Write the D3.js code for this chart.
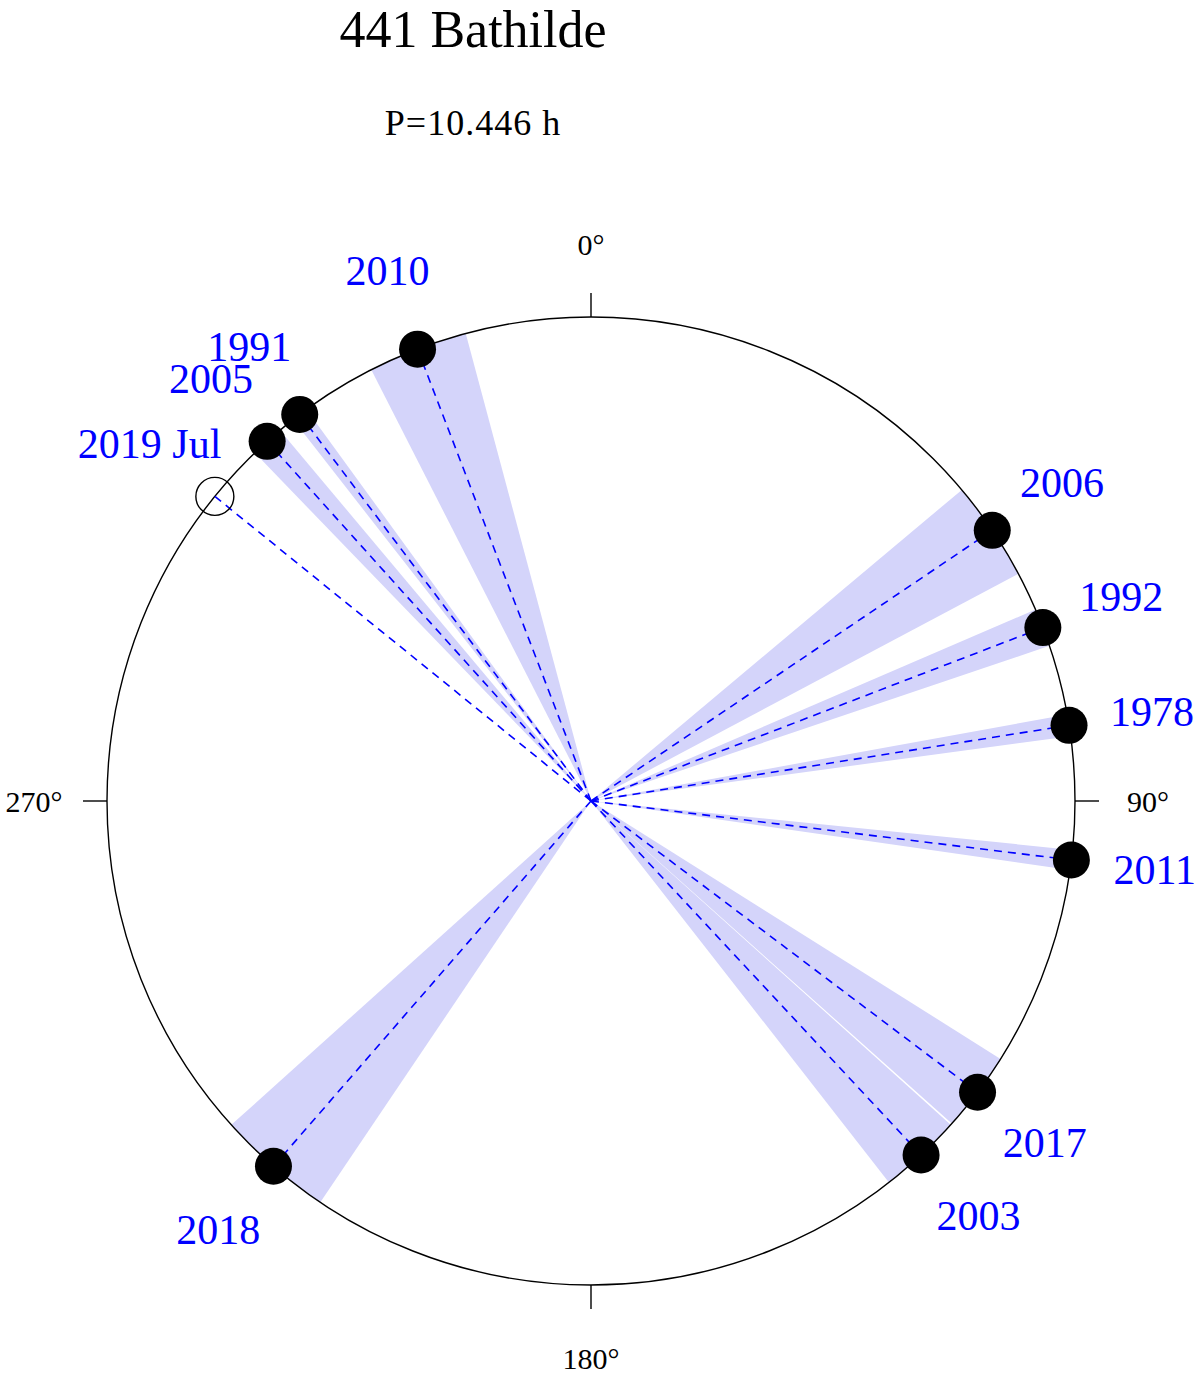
<!DOCTYPE html>
<html>
<head>
    <meta charset="utf-8">
    <style>
        body {
            margin: 0;
            background: #fff;
        }
        svg {
            display: block;
            font-family: 'Liberation Serif', 'DejaVu Serif', serif;
        }
    </style>
</head>
<body>
    <svg width="1200" height="1384"></svg>

<script src="https://d3js.org/d3.v7.min.js"></script>
<script>
    // pole longitudes (deg), with their half-width uncertainty
    let years = ["1978", "1991", "1992", "2003", "2005", "2006", "2010", "2011", "2017", "2018", "2019 Jul"];
    let lambda = [81, 323, 69, 137, 318, 56, 339, 97, 127, 221, 309];
    let spread = [1.3, 1.0, 2.3, 5.0, 2.0, 6.0, 6.0, 1.2, 4.8, 7.0, 0];
    let observed = [true, true, true, true, true, true, true, true, true, true, false];
    let axisTicks = [0, 90, 180, 270];

    let title = "441 Bathilde";
    let subtitle = "P=10.446 h";

    let cx = 591, cy = 801, R = 484;

    let svg = d3.select("svg");

    let angle = d3.scaleLinear()
        .domain([0, 360])
        .range([0, 2 * Math.PI]);

    // position on a radius, 0 deg up and clockwise
    function pos(deg, r) {
        let a = angle(deg);
        return [cx + r * Math.sin(a), cy - r * Math.cos(a)];
    }

    let data = years.map((y, i) => ({
        year: y,
        lon: lambda[i],
        err: spread[i],
        filled: observed[i]
    }));

    let g = svg.append("g").attr("transform", `translate(${cx},${cy})`);

    // shaded uncertainty wedges
    let arc = d3.arc()
        .innerRadius(0)
        .outerRadius(R);

    g.selectAll(".wedge")
        .data(data.filter(d => d.err > 0))
        .join("path")
        .attr("class", "wedge")
        .attr("d", d => arc({ startAngle: angle(d.lon - d.err), endAngle: angle(d.lon + d.err) }))
        .style("fill", "#d4d4fa")
        .style("stroke", "none");

    // outer circle
    svg.append("circle")
        .attr("cx", cx)
        .attr("cy", cy)
        .attr("r", R)
        .style("fill", "none")
        .style("stroke", "black")
        .style("stroke-width", 1.4);

    // tick marks + degree labels
    svg.selectAll(".tick")
        .data(axisTicks)
        .join("line")
        .attr("class", "tick")
        .attr("x1", d => pos(d, R)[0])
        .attr("y1", d => pos(d, R)[1])
        .attr("x2", d => pos(d, R + 24)[0])
        .attr("y2", d => pos(d, R + 24)[1])
        .style("stroke", "black")
        .style("stroke-width", 1.4);

    svg.selectAll(".tick-label")
        .data(axisTicks)
        .join("text")
        .attr("class", "tick-label")
        .attr("x", d => pos(d, 557)[0])
        .attr("y", d => pos(d, 557)[1])
        .attr("text-anchor", "middle")
        .attr("dominant-baseline", "central")
        .style("font-size", "30px")
        .text(d => d + "°");

    // dashed lines from the centre
    svg.selectAll(".spoke")
        .data(data)
        .join("line")
        .attr("class", "spoke")
        .attr("x1", cx)
        .attr("y1", cy)
        .attr("x2", d => pos(d.lon, R)[0])
        .attr("y2", d => pos(d.lon, R)[1])
        .style("stroke", "blue")
        .style("stroke-width", 1.6)
        .style("stroke-dasharray", "8,6");

    // markers
    svg.selectAll(".marker")
        .data(data)
        .join("circle")
        .attr("class", "marker")
        .attr("cx", d => pos(d.lon, R)[0])
        .attr("cy", d => pos(d.lon, R)[1])
        .attr("r", d => d.filled ? 18.5 : 19)
        .style("fill", d => d.filled ? "black" : "none")
        .style("stroke", "black")
        .style("stroke-width", d => d.filled ? 0 : 1.4);

    // year labels
    svg.selectAll(".year")
        .data(data)
        .join("text")
        .attr("class", "year")
        .attr("x", d => pos(d.lon, 568)[0])
        .attr("y", d => pos(d.lon, 568)[1])
        .attr("text-anchor", "middle")
        .attr("dominant-baseline", "central")
        .style("font-size", "42px")
        .style("fill", "blue")
        .text(d => d.year);

    // titles
    svg.append("text")
        .attr("x", 473)
        .attr("y", 47)
        .attr("text-anchor", "middle")
        .style("font-size", "52px")
        .text(title);

    svg.append("text")
        .attr("x", 473)
        .attr("y", 135)
        .attr("text-anchor", "middle")
        .style("font-size", "36px")
        .style("letter-spacing", "1px")
        .text(subtitle);
</script>
</body>
</html>
